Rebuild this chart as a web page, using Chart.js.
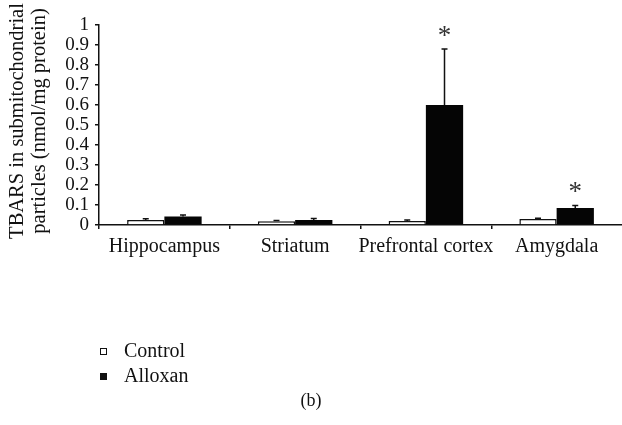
<!DOCTYPE html>
<html>
<head>
<meta charset="utf-8">
<script src="https://cdn.jsdelivr.net/npm/chart.js@4"></script>
<style>
  html, body { margin: 0; padding: 0; background: #fff; }
  #wrap { width: 622px; height: 425px; position: relative; }
</style>
</head>
<body>
<div id="wrap"><canvas id="chart" width="622" height="425"></canvas></div>
<script>
const categories = ['Hippocampus', 'Striatum', 'Prefrontal cortex', 'Amygdala'];
const controlValues = [0.025, 0.019, 0.02, 0.03];
const controlErrors = [0.006, 0.004, 0.005, 0.004];
const alloxanValues = [0.042, 0.025, 0.6, 0.085];
const alloxanErrors = [0.008, 0.008, 0.28, 0.013];
const alloxanSignificant = [false, false, true, true];
const yTicks = [0, 0.1, 0.2, 0.3, 0.4, 0.5, 0.6, 0.7, 0.8, 0.9, 1];
const yTitle = ['TBARS in submitochondrial', 'particles (nmol/mg protein)'];
const panelLabel = '(b)';

const SERIF = '"Liberation Serif", "DejaVu Serif", serif';
const INK = '#111';

// error bars + asterisks + legend + y title, drawn on top
const extras = {
    id: 'extras',
    afterDatasetsDraw(chart) {
        const ctx = chart.ctx;
        const y = chart.scales.y;
        const errs = [controlErrors, alloxanErrors];
        ctx.save();
        ctx.strokeStyle = INK;
        ctx.lineWidth = 1.5;
        chart.data.datasets.forEach((ds, di) => {
            chart.getDatasetMeta(di).data.forEach((bar, i) => {
                const top = y.getPixelForValue(ds.data[i] + errs[di][i]);
                const x = bar.x;
                ctx.beginPath();
                ctx.moveTo(x, bar.y);
                ctx.lineTo(x, top);
                ctx.moveTo(x - 3, top);
                ctx.lineTo(x + 3, top);
                ctx.stroke();
                if (di === 1 && alloxanSignificant[i]) {
                    ctx.fillStyle = '#333';
                    ctx.font = '27px ' + SERIF;
                    ctx.textAlign = 'center';
                    ctx.textBaseline = 'alphabetic';
                    ctx.fillText('*', x, top - 5);
                }
            });
        });
        ctx.restore();
    },
    afterDraw(chart) {
        const ctx = chart.ctx;
        ctx.save();
        ctx.fillStyle = INK;
        // y title
        ctx.font = '20.5px ' + SERIF;
        ctx.textAlign = 'center';
        ctx.textBaseline = 'middle';
        ctx.translate(0, 121);
        ctx.rotate(-Math.PI / 2);
        ctx.fillText(yTitle[0], 0, 18);
        ctx.fillText(yTitle[1], 0, 40);
        ctx.restore();

        // legend
        ctx.save();
        const items = [
            { label: chart.data.datasets[0].label, fill: '#fff', y: 352 },
            { label: chart.data.datasets[1].label, fill: INK, y: 377 }
        ];
        ctx.font = '20px ' + SERIF;
        ctx.textAlign = 'left';
        ctx.textBaseline = 'middle';
        items.forEach(it => {
            ctx.fillStyle = it.fill;
            ctx.fillRect(100.5, it.y - 3.5, 6, 6);
            ctx.strokeStyle = INK;
            ctx.lineWidth = 1;
            ctx.strokeRect(100.5, it.y - 3.5, 6, 6);
            ctx.fillStyle = INK;
            ctx.fillText(it.label, 124, it.y);
        });
        ctx.font = '18px ' + SERIF;
        ctx.textAlign = 'center';
        ctx.fillText(panelLabel, 311, 401);
        ctx.restore();
    }
};

new Chart(document.getElementById('chart'), {
    type: 'bar',
    data: {
        labels: categories,
        datasets: [{
            label: 'Control',
            data: controlValues,
            backgroundColor: '#fff',
            borderColor: INK,
            borderWidth: 1.5,
            borderSkipped: 'bottom',
            categoryPercentage: 0.57,
            barPercentage: 1.0
        }, {
            label: 'Alloxan',
            data: alloxanValues,
            backgroundColor: '#050505',
            borderColor: '#050505',
            borderWidth: 0,
            categoryPercentage: 0.57,
            barPercentage: 1.0
        }]
    },
    options: {
        responsive: false,
        animation: false,
        layout: { padding: { top: 25, right: 0, bottom: 0, left: 0 } },
        plugins: {
            legend: { display: false },
            tooltip: { enabled: false }
        },
        scales: {
            x: {
                offset: true,
                grid: {
                    offset: true,
                    drawOnChartArea: false,
                    drawTicks: true,
                    tickLength: 4,
                    color: c => (c.type === 'tick' ? INK : 'rgba(0,0,0,0)'),
                    lineWidth: 1.5
                },
                border: { color: INK, width: 1.5 },
                ticks: {
                    color: INK,
                    font: { family: SERIF, size: 20 },
                    padding: 6,
                    maxRotation: 0,
                    autoSkip: false
                },
                afterFit(scale) { scale.height = 200; }
            },
            y: {
                min: 0,
                max: 1,
                afterBuildTicks(scale) {
                    scale.ticks = yTicks.map(v => ({ value: v }));
                },
                grid: {
                    drawOnChartArea: false,
                    drawTicks: true,
                    tickLength: 4,
                    color: INK,
                    lineWidth: 1.5
                },
                border: { color: INK, width: 1.5 },
                ticks: {
                    color: INK,
                    autoSkip: false,
                    font: { family: SERIF, size: 19 },
                    padding: 6,
                    callback: v => String(v)
                },
                afterFit(scale) { scale.width = 99; }
            }
        }
    },
    plugins: [extras]
});
</script>
</body>
</html>
